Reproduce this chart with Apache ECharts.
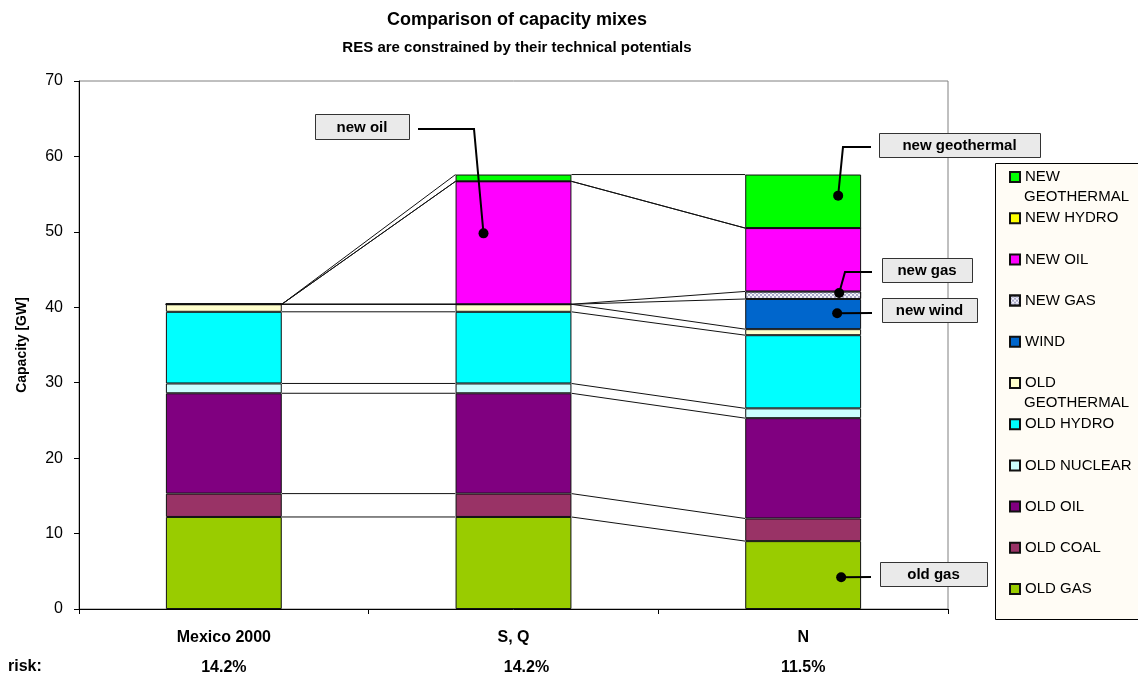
<!DOCTYPE html>
<html>
<head>
<meta charset="utf-8">
<title>Comparison of capacity mixes</title>
<script src="https://cdn.jsdelivr.net/npm/echarts@6/dist/echarts.min.js"></script>
<style>
  html, body { margin: 0; padding: 0; background: #fff; }
  #capacityChart { width: 1138px; height: 679px; }
</style>
</head>
<body>
<div id="capacityChart"></div>
<script>
// data (GW)
const categories = ['Mexico 2000', 'S, Q', 'N'];
const riskValues = ['14.2%', '14.2%', '11.5%'];

const oldGas = [12.2, 12.2, 9.0];
const oldCoal = [3.1, 3.1, 3.0];
const oldOil = [13.3, 13.3, 13.3];
const oldNuclear = [1.3, 1.3, 1.3];
const oldHydro = [9.5, 9.5, 9.7];
const oldGeothermal = [1.0, 1.0, 0.8];
const wind = [0, 0, 4.0];
const newGas = [0, 0, 1.0];
const newOil = [0, 16.3, 8.4];
const newHydro = [0, 0, 0];
const newGeothermal = [0, 0.9, 7.1];

const yTicks = [0, 10, 20, 30, 40, 50, 60, 70];

// stack order, bottom first
const stackSeries = [
  { name: 'OLD GAS', data: oldGas, color: '#99CC00' },
  { name: 'OLD COAL', data: oldCoal, color: '#993366' },
  { name: 'OLD OIL', data: oldOil, color: '#800080' },
  { name: 'OLD NUCLEAR', data: oldNuclear, color: '#CCFFFF' },
  { name: 'OLD HYDRO', data: oldHydro, color: '#00FFFF' },
  { name: 'OLD GEOTHERMAL', data: oldGeothermal, color: '#FFFFCC' },
  { name: 'WIND', data: wind, color: '#0066CC' },
  { name: 'NEW GAS', data: newGas, color: '#F2F2FA', decal: true },
  { name: 'NEW OIL', data: newOil, color: '#FF00FF' },
  { name: 'NEW HYDRO', data: newHydro, color: '#FFFF00' },
  { name: 'NEW GEOTHERMAL', data: newGeothermal, color: '#00FF00' },
];

// callouts: dot sits on a category at a value, box is placed in pixels
const callouts = [
  { text: 'new oil', cat: 1, value: 49.8, dx: -30, box: [315, 114, 94, 25], path: [[418, 129], [474, 129]] },
  { text: 'new geothermal', cat: 2, value: 54.8, dx: 35, box: [879, 133, 161, 24], path: [[871, 147], [843, 147]] },
  { text: 'new gas', cat: 2, value: 41.9, dx: 36, box: [882, 258, 90, 24], path: [[872, 272], [845, 272]] },
  { text: 'new wind', cat: 2, value: 39.2, dx: 34, box: [882, 298, 95, 24], path: [[872, 313]] },
  { text: 'old gas', cat: 2, value: 4.2, dx: 38, box: [880, 562, 107, 24], path: [[871, 577]] },
];

const FONT = '"Liberation Sans", Arial, sans-serif';

// series lines: join the top of every stacked piece between neighbouring bars
const seriesLineData = [];
const cumulative = categories.map(() => 0);
stackSeries.forEach((s) => {
  const tops = s.data.map((v, i) => (cumulative[i] += v));
  for (let i = 0; i < categories.length - 1; i++) {
    seriesLineData.push([i, tops[i], tops[i + 1]]);
  }
});

const barSeries = stackSeries.map((s) => ({
  name: s.name,
  type: 'bar',
  stack: 'capacity',
  barWidth: '40%',
  data: s.data,
  itemStyle: Object.assign(
    { color: s.color, borderColor: '#111', borderWidth: 1 },
    s.decal ? {
      decal: {
        symbol: 'rect',
        symbolSize: 1,
        color: '#A8A8C8',
        dashArrayX: [[2, 2], [0, 2, 2, 0]],
        dashArrayY: [2, 0],
      },
    } : {}
  ),
  emphasis: { disabled: true },
}));

// one legend block per entry so every row sits at the same pitch,
// long names wrap with the second word drawn just below
const legendNames = stackSeries.map((s) => s.name).reverse();
const LEGEND_TOP = 177;
const LEGEND_PITCH = 41.2;
const legends = legendNames.map((name, k) => ({
  orient: 'vertical',
  left: 1009,
  top: LEGEND_TOP + k * LEGEND_PITCH - 8,
  padding: 0,
  itemWidth: 10,
  itemHeight: 10,
  icon: 'rect',
  selectedMode: false,
  data: [name],
  formatter: (n) => (n.endsWith('GEOTHERMAL') ? n.split(' ')[0] : n),
  textStyle: { fontSize: 15, color: '#000', fontFamily: FONT, lineHeight: 16 },
}));

const myChart = echarts.init(document.getElementById('capacityChart'));

const option = {
  animation: false,
  textStyle: { fontFamily: FONT },
  title: [
    {
      text: 'Comparison of capacity mixes',
      left: 512,
      top: 6,
      textAlign: 'center',
      textStyle: { fontSize: 18, fontWeight: 'bold', color: '#000', fontFamily: FONT },
    },
    {
      text: 'RES are constrained by their technical potentials',
      left: 512,
      top: 35,
      textAlign: 'center',
      textStyle: { fontSize: 15, fontWeight: 'bold', color: '#000', fontFamily: FONT },
    },
  ],
  grid: {
    left: 79,
    right: 190,
    top: 81,
    bottom: 70,
    show: true,
    backgroundColor: '#fff',
    borderColor: '#808080',
    borderWidth: 1,
  },
  legend: legends,
  xAxis: {
    type: 'category',
    data: categories,
    axisLine: { lineStyle: { color: '#000', width: 1 } },
    axisTick: { show: true, length: 5, lineStyle: { color: '#000' } },
    axisLabel: {
      margin: 14,
      interval: 0,
      formatter: (value, idx) => '{c|' + value + '}\n{' + (idx === 1 ? 'rs' : 'r') + '|' + riskValues[idx] + '}',
      rich: {
        c: { fontSize: 16, fontWeight: 'bold', lineHeight: 30, color: '#000', fontFamily: FONT },
        r: { fontSize: 16, fontWeight: 'bold', lineHeight: 30, color: '#000', fontFamily: FONT },
        rs: { fontSize: 16, fontWeight: 'bold', lineHeight: 30, color: '#000', fontFamily: FONT, padding: [0, 0, 0, 26] },
      },
    },
  },
  yAxis: {
    type: 'value',
    min: yTicks[0],
    max: yTicks[yTicks.length - 1],
    interval: yTicks[1] - yTicks[0],
    name: 'Capacity [GW]',
    nameLocation: 'middle',
    nameGap: 50,
    nameTextStyle: { fontSize: 14, fontWeight: 'bold', color: '#000', fontFamily: FONT },
    axisLine: { show: true, lineStyle: { color: '#000', width: 1 } },
    axisTick: { show: true, length: 5, lineStyle: { color: '#000' } },
    axisLabel: { fontSize: 16, color: '#000', margin: 16, fontFamily: FONT },
    splitLine: { show: false },
  },
  series: barSeries.concat([
    {
      type: 'custom',
      name: 'series lines',
      silent: true,
      z: 1,
      encode: { x: 0, y: [1, 2] },
      data: seriesLineData,
      renderItem: (params, api) => {
        const i = api.value(0);
        const half = api.size([1, 0])[0] * 0.2;
        const p0 = api.coord([i, api.value(1)]);
        const p1 = api.coord([i + 1, api.value(2)]);
        return {
          type: 'line',
          shape: { x1: p0[0] + half, y1: p0[1], x2: p1[0] - half, y2: p1[1] },
          style: { stroke: '#111', lineWidth: 1 },
        };
      },
    },
  ]),
};

myChart.setOption(option);

// legend frame, wrapped legend words, the "risk:" row label and the callouts
const graphics = [
  {
    type: 'rect',
    z: 0,
    shape: { x: 995.5, y: 163.5, width: 160, height: 456 },
    style: { fill: '#FFFCF5', stroke: '#000', lineWidth: 1 },
  },
  {
    type: 'text',
    left: 8,
    top: 659,
    style: { text: 'risk:', font: 'bold 16px ' + FONT, fill: '#000' },
  },
];

legendNames.forEach((name, k) => {
  if (name.endsWith('GEOTHERMAL')) {
    graphics.push({
      type: 'text',
      z: 5,
      style: {
        x: 1024,
        y: LEGEND_TOP + k * LEGEND_PITCH + 20,
        text: name.split(' ')[1],
        verticalAlign: 'middle',
        font: '15px ' + FONT,
        fill: '#000',
      },
    });
  }
});

callouts.forEach((c) => {
  const base = myChart.convertToPixel({ xAxisIndex: 0, yAxisIndex: 0 }, [c.cat, c.value]);
  const dot = [base[0] + c.dx, base[1]];
  const pts = c.path.concat([dot]);
  graphics.push({
    type: 'polyline',
    z: 20,
    shape: { points: pts },
    style: { stroke: '#000', lineWidth: 2, fill: null },
  });
  graphics.push({
    type: 'circle',
    z: 21,
    shape: { cx: dot[0], cy: dot[1], r: 5 },
    style: { fill: '#000' },
  });
  graphics.push({
    type: 'rect',
    z: 20,
    shape: { x: c.box[0] + 0.5, y: c.box[1] + 0.5, width: c.box[2], height: c.box[3] },
    style: { fill: '#EAEAEA', stroke: '#333', lineWidth: 1 },
  });
  graphics.push({
    type: 'text',
    z: 21,
    style: {
      x: c.box[0] + c.box[2] / 2,
      y: c.box[1] + c.box[3] / 2 + 1,
      text: c.text,
      align: 'center',
      verticalAlign: 'middle',
      font: 'bold 15px ' + FONT,
      fill: '#000',
    },
  });
});

myChart.setOption({ graphic: graphics });
</script>
</body>
</html>
